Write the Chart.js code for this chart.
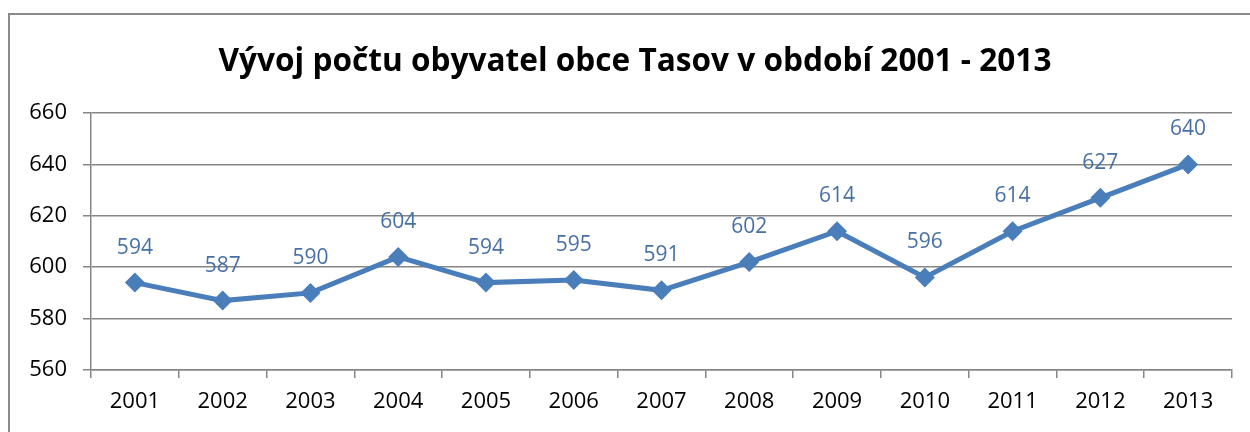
<!DOCTYPE html>
<html>
<head>
<meta charset="utf-8">
<script src="https://cdn.jsdelivr.net/npm/chart.js@4/dist/chart.umd.min.js"></script>
<style>
  html, body { margin: 0; padding: 0; background: #fff; }
  #wrap { width: 1250px; height: 432px; }
</style>
</head>
<body>
<div id="wrap"><canvas id="chart" width="1250" height="432"></canvas></div>
<script>
  // data
  const years = ["2001", "2002", "2003", "2004", "2005", "2006", "2007", "2008", "2009", "2010", "2011", "2012", "2013"];
  const residents = [594, 587, 590, 604, 594, 595, 591, 602, 614, 596, 614, 627, 640];
  const yTicks = [560, 580, 600, 620, 640, 660];
  const titleText = "Vývoj počtu obyvatel obce Tasov v období 2001 - 2013";

  const FONT = "'Open Sans', 'Liberation Sans', sans-serif";
  const BLUE = "#4a7ebb";
  const GRID = "#868686";

  // outer frame and title of the chart box
  const framePlugin = {
    id: "frame",
    beforeDraw(chart) {
      const ctx = chart.ctx;
      ctx.save();
      ctx.strokeStyle = "#8a8a8a";
      ctx.lineWidth = 2;
      ctx.strokeRect(9, 14, 1260, 440);
      ctx.fillStyle = "#000";
      ctx.font = "bold 31.6px " + FONT;
      ctx.textAlign = "center";
      ctx.textBaseline = "middle";
      ctx.fillText(titleText, 635, 62);
      ctx.restore();
    }
  };

  // value labels above each point
  const valueLabels = {
    id: "valueLabels",
    afterDatasetsDraw(chart) {
      const ctx = chart.ctx;
      const meta = chart.getDatasetMeta(0);
      ctx.save();
      ctx.font = "21px " + FONT;
      ctx.fillStyle = "#4870a6";
      ctx.textAlign = "center";
      ctx.textBaseline = "middle";
      meta.data.forEach((pt, i) => {
        ctx.fillText(String(residents[i]), pt.x, pt.y - 35);
      });
      ctx.restore();
    }
  };

  new Chart(document.getElementById("chart"), {
    type: "line",
    data: {
      labels: years,
      datasets: [{
        data: residents,
        borderColor: BLUE,
        backgroundColor: BLUE,
        borderWidth: 5,
        pointStyle: "rectRot",
        pointRadius: 10,
        pointBorderWidth: 0,
        tension: 0
      }]
    },
    options: {
      responsive: false,
      animation: false,
      devicePixelRatio: 1,
      layout: { padding: { left: 0, right: 18, top: 113, bottom: 0 } },
      plugins: {
        legend: { display: false },
        tooltip: { enabled: false },
        title: { display: false }
      },
      scales: {
        x: {
          offset: true,
          grid: { offset: true, drawOnChartArea: false, drawTicks: true, tickLength: 8, color: GRID, lineWidth: 1.5 },
          border: { color: GRID, width: 1.5 },
          ticks: { color: "#000", font: { family: FONT, size: 22 }, padding: 11, maxRotation: 0 },
          afterFit: s => { s.height = 62; }
        },
        y: {
          min: 560,
          max: 660,
          afterBuildTicks: s => { s.ticks = yTicks.map(v => ({ value: v })); },
          grid: { color: GRID, lineWidth: 1.5, tickLength: 8 },
          border: { color: GRID, width: 1.5 },
          ticks: { color: "#000", font: { family: FONT, size: 22 }, padding: 16 },
          afterFit: s => { s.width = 91; }
        }
      }
    },
    plugins: [framePlugin, valueLabels]
  });
</script>
</body>
</html>
